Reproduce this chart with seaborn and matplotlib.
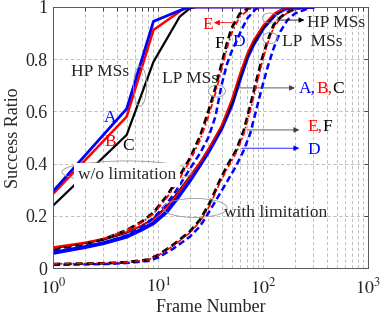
import numpy as np
import pandas as pd
import matplotlib
matplotlib.use("Agg")
import matplotlib.pyplot as plt
import seaborn as sns
from matplotlib.patches import Ellipse

# HP MSs w/o limitation (A, B, C)
x_hp_a = [1, 5, 9, 18, 21, 300]
y_hp_a = [0.295, 0.61, 0.945, 0.995, 1.0, 1.0]
x_hp_b = [1, 5, 9, 17, 20, 300]
y_hp_b = [0.285, 0.58, 0.912, 0.99, 1.0, 1.0]
x_hp_c = [1, 5, 9, 16, 20, 23, 300]
y_hp_c = [0.24, 0.51, 0.79, 0.963, 0.995, 1.0, 1.0]

# middle group, solid curves
x_mid = [1, 2, 3, 5, 7, 9, 12, 15, 20, 25, 30, 40, 50, 60, 70, 80, 100, 130, 160, 200, 300]
y_mid_blue = [0.058, 0.08, 0.095, 0.12, 0.148, 0.172, 0.215, 0.265, 0.335, 0.395, 0.445, 0.535,
              0.625, 0.725, 0.805, 0.855, 0.92, 0.972, 0.993, 1.0, 1.0]
y_mid_black = [0.075, 0.095, 0.108, 0.135, 0.163, 0.19, 0.235, 0.285, 0.352, 0.405, 0.455, 0.54,
               0.63, 0.73, 0.81, 0.86, 0.922, 0.974, 0.994, 1.0, 1.0]
y_mid_red = [0.08, 0.098, 0.112, 0.138, 0.163, 0.186, 0.232, 0.28, 0.35, 0.405, 0.455, 0.545,
             0.645, 0.745, 0.82, 0.87, 0.93, 0.978, 0.995, 1.0, 1.0]

# middle group, dashed curves (E, F, D)
x_f = [1, 2, 3, 5, 7, 9, 12, 15, 20, 25, 30, 35, 40, 45, 50, 60, 75]
y_f = [0.072, 0.092, 0.11, 0.145, 0.178, 0.212, 0.275, 0.335, 0.42, 0.505, 0.6, 0.69, 0.78, 0.86,
       0.92, 0.975, 1.0]
x_e = [1, 2, 3, 5, 7, 9, 12, 15, 20, 25, 30, 35, 40, 45, 50, 60, 80]
y_e = [0.076, 0.095, 0.112, 0.145, 0.175, 0.208, 0.268, 0.325, 0.41, 0.49, 0.58, 0.67, 0.76, 0.84,
       0.9, 0.965, 1.0]
x_d = [1, 2, 3, 5, 7, 9, 12, 15, 20, 25, 30, 35, 40, 45, 50, 55, 60, 70, 85, 100]
y_d = [0.062, 0.08, 0.095, 0.125, 0.158, 0.192, 0.245, 0.3, 0.38, 0.44, 0.5, 0.58, 0.70, 0.78,
       0.83, 0.865, 0.90, 0.955, 0.993, 1.0]

# with limitation
x_lim = [1, 3, 5, 8, 10, 14, 20, 25, 31, 38, 45, 55, 65, 75, 85, 97, 110, 125, 145, 166, 200, 260]
y_lim_black = [0.015, 0.018, 0.022, 0.032, 0.05, 0.09, 0.14, 0.185, 0.25, 0.33, 0.39, 0.45, 0.525,
               0.62, 0.71, 0.80, 0.87, 0.93, 0.96, 0.978, 0.992, 1.0]
y_lim_red = [0.016, 0.018, 0.022, 0.031, 0.048, 0.086, 0.135, 0.178, 0.24, 0.32, 0.378, 0.44, 0.51,
             0.60, 0.69, 0.785, 0.86, 0.92, 0.955, 0.975, 0.99, 1.0]
x_lim_blue = [1, 3, 5, 8, 10, 14, 20, 25, 31, 38, 45, 55, 65, 75, 85, 97, 110, 125, 145, 170, 200,
              250, 290]
y_lim_blue = [0.012, 0.015, 0.019, 0.027, 0.04, 0.075, 0.12, 0.16, 0.22, 0.28, 0.33, 0.39, 0.45,
              0.515, 0.60, 0.69, 0.77, 0.84, 0.905, 0.95, 0.975, 0.99, 1.0]

y_ticks = [0, 0.2, 0.4, 0.6, 0.8, 1]
y_ticklabels = ["0", "0.2", "0.4", "0.6", "0.8", "1"]
x_ticks = [1, 10, 100, 1000]
x_ticklabels = [r"$10^0$", r"$10^1$", r"$10^2$", r"$10^3$"]

sns.set_style("white")
plt.rcParams["font.family"] = ["Liberation Serif", "DejaVu Serif"]
plt.rcParams["mathtext.fontset"] = "stix"

fig = plt.figure(figsize=(3.82, 3.27), dpi=100)
ax = fig.add_axes([0.1395, 0.1804, 0.8246, 0.7982])
ax.set_xscale("log")
ax.set_xlim(1, 1000)
ax.set_ylim(0, 1)

grid_kw = dict(color="0.7", linestyle=(0, (4, 3)), linewidth=0.6)
ax.grid(True, which="major", axis="both", **grid_kw)
ax.grid(True, which="minor", axis="x", **grid_kw)
ax.set_axisbelow(True)

BLUE, RED, BLACK = "#0000ff", "#ff0000", "#000000"
dash = (0, (2.6, 1.4))
dashdot = (0, (3, 1.5, 1, 1.5))


def line(x, y, color, lw, ls="-"):
    sns.lineplot(x=x, y=y, ax=ax, color=color, linewidth=lw, linestyle=ls, legend=False)


# with limitation
line(x_lim_blue, y_lim_blue, BLUE, 1.8, dash)
line(x_lim, y_lim_black, BLACK, 2.0, dash)
line(x_lim, y_lim_red, RED, 1.2, dashdot)

# middle group
line(x_mid, y_mid_blue, BLUE, 2.8)
line(x_mid, y_mid_black, BLACK, 1.3)
line(x_mid, y_mid_red, RED, 1.3)
line(x_d, y_d, BLUE, 1.8, dash)
line(x_f, y_f, BLACK, 2.0, dash)
line(x_e, y_e, RED, 1.3, dashdot)

# HP MSs w/o limitation
line(x_hp_c, y_hp_c, BLACK, 1.6)
line(x_hp_b, y_hp_b, RED, 1.8)
line(x_hp_a, y_hp_a, BLUE, 2.0)

ax.set_yticks(y_ticks)
ax.set_yticklabels(y_ticklabels)
ax.set_xticks(x_ticks)
ax.set_xticklabels(x_ticklabels)
ax.tick_params(axis="both", which="both", direction="in", top=True, right=True,
               labelsize=13, length=3, width=0.6)
ax.tick_params(axis="x", which="major", pad=7)
ax.tick_params(axis="y", which="major", pad=4)
for sp in ax.spines.values():
    sp.set_linewidth(0.7)
    sp.set_color("0.35")

ax.set_xlabel("Frame Number", fontsize=13)
ax.set_ylabel("Success Ratio", fontsize=13)
ax.xaxis.set_label_coords(0.5, -0.12)
ax.yaxis.set_label_coords(-0.1, 0.5)


def ellipse(x, y, w, h):
    cx, cy = (ax.transData + ax.transAxes.inverted()).transform((x, y))
    ax.add_patch(Ellipse((cx, cy), w / 315, h / 261, transform=ax.transAxes,
                         fill=False, edgecolor="0.6", linewidth=0.6, zorder=5))


ellipse(6.7, 0.697, 13, 40)
ellipse(36.2, 0.678, 17, 12)
ellipse(115.8, 0.958, 15, 10)
ellipse(115.8, 0.881, 15, 11)
ellipse(5.03, 0.368, 130, 22)
ellipse(22.4, 0.230, 64, 19)

fs = 12.5
ax.text(2.78, 0.751, "HP MSs", fontsize=fs, ha="center", va="center")
ax.text(20.0, 0.724, "LP MSs", fontsize=fs, ha="center", va="center")
ax.text(3.47, 0.575, "A", color=BLUE, fontsize=fs, ha="center", va="center")
ax.text(3.47, 0.483, "B", color=RED, fontsize=fs, ha="center", va="center")
ax.text(5.14, 0.467, "C", color=BLACK, fontsize=fs, ha="center", va="center")
ax.text(29.7, 0.931, "E", color=RED, fontsize=fs, ha="center", va="center")
ax.text(37.8, 0.858, "F", color=BLACK, fontsize=fs, ha="center", va="center")
ax.text(58.7, 0.866, "D", color=BLUE, fontsize=fs, ha="center", va="center")
ax.text(259, 0.939, "HP MSs", fontsize=fs, ha="left", va="center")
ax.text(150, 0.866, "LP  MSs", fontsize=fs, ha="left", va="center")
ax.text(5.03, 0.356, "w/o limitation", fontsize=fs, ha="center", va="center", zorder=6,
        bbox=dict(facecolor="white", edgecolor="none", pad=3))
ax.text(132, 0.211, "with limitation", fontsize=fs, ha="center", va="center", zorder=6)

# A,B,C / E,F / D labels in mixed colours
t = ax.text(220, 0.686, "A,", color=BLUE, fontsize=fs, ha="left", va="center")
t2 = ax.annotate("B,", xycoords=t, xy=(1, 0), va="bottom", color=RED, fontsize=fs)
ax.annotate("C", xycoords=t2, xy=(1, 0), va="bottom", color=BLACK, fontsize=fs)
t = ax.text(262, 0.540, "E,", color=RED, fontsize=fs, ha="left", va="center")
ax.annotate("F", xycoords=t, xy=(1, 0), va="bottom", color=BLACK, fontsize=fs)
ax.text(262, 0.452, "D", color=BLUE, fontsize=fs, ha="left", va="center")


def arrow(x0, x1, y, color):
    ax.annotate("", xy=(x1, y), xytext=(x0, y),
                arrowprops=dict(arrowstyle="-|>", color=color, lw=0.6, mutation_scale=8,
                                shrinkA=0, shrinkB=0), zorder=6)


arrow(50.4, 33.9, 0.94, RED)
arrow(135, 246, 0.95, BLACK)
arrow(57.4, 200, 0.69, "0.25")
arrow(69.5, 220, 0.529, "0.25")
arrow(62.3, 220, 0.459, BLUE)

fig.savefig("out.png", dpi=100)
